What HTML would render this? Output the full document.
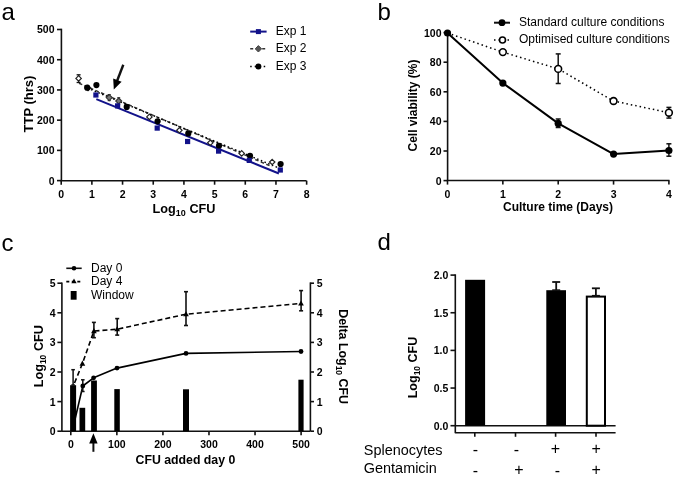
<!DOCTYPE html>
<html><head><meta charset="utf-8"><style>
html,body{margin:0;padding:0;background:#fff;}
svg{display:block;font-family:"Liberation Sans", sans-serif;will-change:transform;}
text{fill:#000;}
</style></head><body>
<svg width="675" height="477" viewBox="0 0 675 477">
<rect width="675" height="477" fill="#fff"/>
<text x="1.40" y="20.00" font-size="24" font-weight="normal" text-anchor="start" >a</text>
<line x1="61.40" y1="28.70" x2="61.40" y2="180.70" stroke="#111" stroke-width="1.6" stroke-linecap="butt"/>
<line x1="60.60" y1="180.70" x2="306.50" y2="180.70" stroke="#111" stroke-width="1.6" stroke-linecap="butt"/>
<line x1="57.00" y1="180.60" x2="61.40" y2="180.60" stroke="#111" stroke-width="1.6" stroke-linecap="butt"/>
<text x="54.50" y="184.50" font-size="10.5" font-weight="bold" text-anchor="end" >0</text>
<line x1="57.00" y1="150.38" x2="61.40" y2="150.38" stroke="#111" stroke-width="1.6" stroke-linecap="butt"/>
<text x="54.50" y="154.28" font-size="10.5" font-weight="bold" text-anchor="end" >100</text>
<line x1="57.00" y1="120.16" x2="61.40" y2="120.16" stroke="#111" stroke-width="1.6" stroke-linecap="butt"/>
<text x="54.50" y="124.06" font-size="10.5" font-weight="bold" text-anchor="end" >200</text>
<line x1="57.00" y1="89.94" x2="61.40" y2="89.94" stroke="#111" stroke-width="1.6" stroke-linecap="butt"/>
<text x="54.50" y="93.84" font-size="10.5" font-weight="bold" text-anchor="end" >300</text>
<line x1="57.00" y1="59.72" x2="61.40" y2="59.72" stroke="#111" stroke-width="1.6" stroke-linecap="butt"/>
<text x="54.50" y="63.62" font-size="10.5" font-weight="bold" text-anchor="end" >400</text>
<line x1="57.00" y1="29.50" x2="61.40" y2="29.50" stroke="#111" stroke-width="1.6" stroke-linecap="butt"/>
<text x="54.50" y="33.40" font-size="10.5" font-weight="bold" text-anchor="end" >500</text>
<line x1="61.20" y1="180.70" x2="61.20" y2="184.70" stroke="#111" stroke-width="1.6" stroke-linecap="butt"/>
<text x="61.20" y="198.20" font-size="10.5" font-weight="bold" text-anchor="middle" >0</text>
<line x1="91.88" y1="180.70" x2="91.88" y2="184.70" stroke="#111" stroke-width="1.6" stroke-linecap="butt"/>
<text x="91.88" y="198.20" font-size="10.5" font-weight="bold" text-anchor="middle" >1</text>
<line x1="122.56" y1="180.70" x2="122.56" y2="184.70" stroke="#111" stroke-width="1.6" stroke-linecap="butt"/>
<text x="122.56" y="198.20" font-size="10.5" font-weight="bold" text-anchor="middle" >2</text>
<line x1="153.24" y1="180.70" x2="153.24" y2="184.70" stroke="#111" stroke-width="1.6" stroke-linecap="butt"/>
<text x="153.24" y="198.20" font-size="10.5" font-weight="bold" text-anchor="middle" >3</text>
<line x1="183.92" y1="180.70" x2="183.92" y2="184.70" stroke="#111" stroke-width="1.6" stroke-linecap="butt"/>
<text x="183.92" y="198.20" font-size="10.5" font-weight="bold" text-anchor="middle" >4</text>
<line x1="214.60" y1="180.70" x2="214.60" y2="184.70" stroke="#111" stroke-width="1.6" stroke-linecap="butt"/>
<text x="214.60" y="198.20" font-size="10.5" font-weight="bold" text-anchor="middle" >5</text>
<line x1="245.28" y1="180.70" x2="245.28" y2="184.70" stroke="#111" stroke-width="1.6" stroke-linecap="butt"/>
<text x="245.28" y="198.20" font-size="10.5" font-weight="bold" text-anchor="middle" >6</text>
<line x1="275.96" y1="180.70" x2="275.96" y2="184.70" stroke="#111" stroke-width="1.6" stroke-linecap="butt"/>
<text x="275.96" y="198.20" font-size="10.5" font-weight="bold" text-anchor="middle" >7</text>
<line x1="306.64" y1="180.70" x2="306.64" y2="184.70" stroke="#111" stroke-width="1.6" stroke-linecap="butt"/>
<text x="306.64" y="198.20" font-size="10.5" font-weight="bold" text-anchor="middle" >8</text>
<text x="152.60" y="213.00" font-size="12.7" font-weight="bold" text-anchor="start" >Log<tspan font-size="9" dy="3">10</tspan><tspan dy="-3"> CFU</tspan></text>
<text x="0.00" y="0.00" font-size="13" font-weight="bold" text-anchor="middle" transform="translate(32.5,104) rotate(-90)">TTP (hrs)</text>
<line x1="96.30" y1="99.10" x2="278.90" y2="173.50" stroke="#12128a" stroke-width="2" stroke-linecap="butt"/>
<line x1="79.00" y1="83.29" x2="272.00" y2="166.68" stroke="#333" stroke-width="1.5" stroke-linecap="butt" stroke-dasharray="3.5,2.5"/>
<line x1="87.30" y1="88.06" x2="280.70" y2="168.77" stroke="#000" stroke-width="1.5" stroke-linecap="butt" stroke-dasharray="1.5,2.5"/>
<line x1="78.60" y1="74.80" x2="78.60" y2="82.50" stroke="#111" stroke-width="1.3" stroke-linecap="butt"/>
<line x1="76.60" y1="74.80" x2="80.60" y2="74.80" stroke="#111" stroke-width="1.3" stroke-linecap="butt"/>
<line x1="76.60" y1="82.50" x2="80.60" y2="82.50" stroke="#111" stroke-width="1.3" stroke-linecap="butt"/>
<polygon points="78.6,75.7 81.3,78.4 78.6,81.10000000000001 75.89999999999999,78.4" fill="#fff" stroke="#222" stroke-width="1.2"/>
<polygon points="88,85.3 90.7,88 88,90.7 85.3,88" fill="#fff" stroke="#222" stroke-width="1.2"/>
<polygon points="149.4,114.2 152.1,116.9 149.4,119.60000000000001 146.70000000000002,116.9" fill="#fff" stroke="#222" stroke-width="1.2"/>
<polygon points="179.4,127.60000000000001 182.1,130.3 179.4,133.0 176.70000000000002,130.3" fill="#fff" stroke="#222" stroke-width="1.2"/>
<polygon points="210.3,140.10000000000002 213.0,142.8 210.3,145.5 207.60000000000002,142.8" fill="#fff" stroke="#222" stroke-width="1.2"/>
<polygon points="241.7,150.70000000000002 244.39999999999998,153.4 241.7,156.1 239.0,153.4" fill="#fff" stroke="#222" stroke-width="1.2"/>
<polygon points="272.2,159.3 274.9,162 272.2,164.7 269.5,162" fill="#fff" stroke="#222" stroke-width="1.2"/>
<line x1="109.20" y1="94.60" x2="109.20" y2="100.60" stroke="#111" stroke-width="1.1" stroke-linecap="butt"/>
<line x1="107.70" y1="94.60" x2="110.70" y2="94.60" stroke="#111" stroke-width="1.1" stroke-linecap="butt"/>
<line x1="107.70" y1="100.60" x2="110.70" y2="100.60" stroke="#111" stroke-width="1.1" stroke-linecap="butt"/>
<line x1="118.70" y1="97.80" x2="118.70" y2="104.20" stroke="#111" stroke-width="1.1" stroke-linecap="butt"/>
<line x1="117.20" y1="97.80" x2="120.20" y2="97.80" stroke="#111" stroke-width="1.1" stroke-linecap="butt"/>
<line x1="117.20" y1="104.20" x2="120.20" y2="104.20" stroke="#111" stroke-width="1.1" stroke-linecap="butt"/>
<polygon points="109.2,94.6 112.2,97.6 109.2,100.6 106.2,97.6" fill="#777" stroke="#333" stroke-width="1.1"/>
<polygon points="118.7,98 121.7,101 118.7,104 115.7,101" fill="#777" stroke="#333" stroke-width="1.1"/>
<circle cx="87.20" cy="87.70" r="3.1" fill="#000"/>
<circle cx="96.40" cy="85.10" r="3.1" fill="#000"/>
<circle cx="126.70" cy="106.90" r="3.1" fill="#000"/>
<circle cx="157.60" cy="121.30" r="3.1" fill="#000"/>
<circle cx="188.30" cy="133.40" r="3.1" fill="#000"/>
<circle cx="219.00" cy="145.80" r="3.1" fill="#000"/>
<circle cx="250.00" cy="155.80" r="3.1" fill="#000"/>
<circle cx="280.60" cy="164.00" r="3.1" fill="#000"/>
<rect x="93.30" y="92.40" width="5.20" height="5.20" fill="#12128a"/>
<rect x="115.00" y="103.30" width="5.20" height="5.20" fill="#12128a"/>
<rect x="154.60" y="125.50" width="5.20" height="5.20" fill="#12128a"/>
<rect x="185.00" y="138.90" width="5.20" height="5.20" fill="#12128a"/>
<rect x="216.00" y="148.50" width="5.20" height="5.20" fill="#12128a"/>
<rect x="246.70" y="157.80" width="5.20" height="5.20" fill="#12128a"/>
<rect x="277.70" y="167.40" width="5.20" height="5.20" fill="#12128a"/>
<line x1="123.30" y1="64.80" x2="117.04" y2="81.00" stroke="#111" stroke-width="2.4" stroke-linecap="butt"/>
<polygon points="113.80,89.40 113.20,78.45 121.60,81.69" fill="#000"/>
<line x1="250.20" y1="31.60" x2="266.60" y2="31.60" stroke="#12128a" stroke-width="2" stroke-linecap="butt"/>
<rect x="255.90" y="29.10" width="5.00" height="5.00" fill="#12128a"/>
<text x="275.70" y="34.80" font-size="12" font-weight="normal" text-anchor="start" >Exp 1</text>
<line x1="250.20" y1="48.80" x2="266.60" y2="48.80" stroke="#333" stroke-width="1.5" stroke-linecap="butt" stroke-dasharray="3,3"/>
<polygon points="258.4,45.599999999999994 261.59999999999997,48.8 258.4,52.0 255.2,48.8" fill="#555" stroke="#444" stroke-width="1"/>
<text x="275.70" y="52.20" font-size="12" font-weight="normal" text-anchor="start" >Exp 2</text>
<line x1="250.20" y1="66.60" x2="266.60" y2="66.60" stroke="#000" stroke-width="1.5" stroke-linecap="butt" stroke-dasharray="1.5,3"/>
<circle cx="258.40" cy="66.60" r="3" fill="#000"/>
<text x="275.70" y="70.00" font-size="12" font-weight="normal" text-anchor="start" >Exp 3</text>
<text x="377.50" y="19.80" font-size="24" font-weight="normal" text-anchor="start" >b</text>
<line x1="447.60" y1="31.80" x2="447.60" y2="180.50" stroke="#111" stroke-width="1.6" stroke-linecap="butt"/>
<line x1="446.80" y1="180.50" x2="669.50" y2="180.50" stroke="#111" stroke-width="1.6" stroke-linecap="butt"/>
<line x1="443.50" y1="180.60" x2="447.50" y2="180.60" stroke="#111" stroke-width="1.6" stroke-linecap="butt"/>
<text x="441.50" y="184.50" font-size="10.5" font-weight="bold" text-anchor="end" >0</text>
<line x1="443.50" y1="151.00" x2="447.50" y2="151.00" stroke="#111" stroke-width="1.6" stroke-linecap="butt"/>
<text x="441.50" y="154.90" font-size="10.5" font-weight="bold" text-anchor="end" >20</text>
<line x1="443.50" y1="121.40" x2="447.50" y2="121.40" stroke="#111" stroke-width="1.6" stroke-linecap="butt"/>
<text x="441.50" y="125.30" font-size="10.5" font-weight="bold" text-anchor="end" >40</text>
<line x1="443.50" y1="91.80" x2="447.50" y2="91.80" stroke="#111" stroke-width="1.6" stroke-linecap="butt"/>
<text x="441.50" y="95.70" font-size="10.5" font-weight="bold" text-anchor="end" >60</text>
<line x1="443.50" y1="62.20" x2="447.50" y2="62.20" stroke="#111" stroke-width="1.6" stroke-linecap="butt"/>
<text x="441.50" y="66.10" font-size="10.5" font-weight="bold" text-anchor="end" >80</text>
<line x1="443.50" y1="32.60" x2="447.50" y2="32.60" stroke="#111" stroke-width="1.6" stroke-linecap="butt"/>
<text x="441.50" y="36.50" font-size="10.5" font-weight="bold" text-anchor="end" >100</text>
<line x1="447.50" y1="180.60" x2="447.50" y2="184.60" stroke="#111" stroke-width="1.6" stroke-linecap="butt"/>
<text x="447.50" y="198.00" font-size="10.5" font-weight="bold" text-anchor="middle" >0</text>
<line x1="502.85" y1="180.60" x2="502.85" y2="184.60" stroke="#111" stroke-width="1.6" stroke-linecap="butt"/>
<text x="502.85" y="198.00" font-size="10.5" font-weight="bold" text-anchor="middle" >1</text>
<line x1="558.20" y1="180.60" x2="558.20" y2="184.60" stroke="#111" stroke-width="1.6" stroke-linecap="butt"/>
<text x="558.20" y="198.00" font-size="10.5" font-weight="bold" text-anchor="middle" >2</text>
<line x1="613.55" y1="180.60" x2="613.55" y2="184.60" stroke="#111" stroke-width="1.6" stroke-linecap="butt"/>
<text x="613.55" y="198.00" font-size="10.5" font-weight="bold" text-anchor="middle" >3</text>
<line x1="668.90" y1="180.60" x2="668.90" y2="184.60" stroke="#111" stroke-width="1.6" stroke-linecap="butt"/>
<text x="668.90" y="198.00" font-size="10.5" font-weight="bold" text-anchor="middle" >4</text>
<text x="558.00" y="211.30" font-size="12" font-weight="bold" text-anchor="middle" >Culture time (Days)</text>
<text x="0.00" y="0.00" font-size="12" font-weight="bold" text-anchor="middle" transform="translate(416.6,105.5) rotate(-90)">Cell viability (%)</text>
<polyline points="447.50,33.00 502.85,52.10 558.20,68.90 613.55,101.00 668.90,112.70" fill="none" stroke="#000" stroke-width="1.5" stroke-linejoin="round" stroke-dasharray="1.5,3"/>
<polyline points="447.50,33.00 502.85,83.10 558.20,123.40 613.55,154.10 668.90,150.50" fill="none" stroke="#000" stroke-width="2" stroke-linejoin="round"/>
<line x1="558.20" y1="53.90" x2="558.20" y2="83.50" stroke="#111" stroke-width="1.5" stroke-linecap="butt"/>
<line x1="555.70" y1="53.90" x2="560.70" y2="53.90" stroke="#111" stroke-width="1.5" stroke-linecap="butt"/>
<line x1="555.70" y1="83.50" x2="560.70" y2="83.50" stroke="#111" stroke-width="1.5" stroke-linecap="butt"/>
<line x1="668.90" y1="107.40" x2="668.90" y2="118.10" stroke="#111" stroke-width="1.5" stroke-linecap="butt"/>
<line x1="666.40" y1="107.40" x2="671.40" y2="107.40" stroke="#111" stroke-width="1.5" stroke-linecap="butt"/>
<line x1="666.40" y1="118.10" x2="671.40" y2="118.10" stroke="#111" stroke-width="1.5" stroke-linecap="butt"/>
<line x1="558.20" y1="119.00" x2="558.20" y2="127.50" stroke="#111" stroke-width="1.5" stroke-linecap="butt"/>
<line x1="555.70" y1="119.00" x2="560.70" y2="119.00" stroke="#111" stroke-width="1.5" stroke-linecap="butt"/>
<line x1="555.70" y1="127.50" x2="560.70" y2="127.50" stroke="#111" stroke-width="1.5" stroke-linecap="butt"/>
<line x1="668.90" y1="143.80" x2="668.90" y2="156.20" stroke="#111" stroke-width="1.5" stroke-linecap="butt"/>
<line x1="666.40" y1="143.80" x2="671.40" y2="143.80" stroke="#111" stroke-width="1.5" stroke-linecap="butt"/>
<line x1="666.40" y1="156.20" x2="671.40" y2="156.20" stroke="#111" stroke-width="1.5" stroke-linecap="butt"/>
<circle cx="502.85" cy="52.10" r="3.4" fill="#fff" stroke="#000" stroke-width="1.6"/>
<circle cx="558.20" cy="68.90" r="3.4" fill="#fff" stroke="#000" stroke-width="1.6"/>
<circle cx="613.55" cy="101.00" r="3.4" fill="#fff" stroke="#000" stroke-width="1.6"/>
<circle cx="668.90" cy="112.70" r="3.4" fill="#fff" stroke="#000" stroke-width="1.6"/>
<circle cx="447.50" cy="33.00" r="3.6" fill="#000"/>
<circle cx="502.85" cy="83.10" r="3.6" fill="#000"/>
<circle cx="558.20" cy="123.40" r="3.6" fill="#000"/>
<circle cx="613.55" cy="154.10" r="3.6" fill="#000"/>
<circle cx="668.90" cy="150.50" r="3.6" fill="#000"/>
<line x1="494.00" y1="22.70" x2="510.00" y2="22.70" stroke="#111" stroke-width="2" stroke-linecap="butt"/>
<circle cx="502.00" cy="22.70" r="3.4" fill="#000"/>
<text x="519.00" y="25.80" font-size="12" font-weight="normal" text-anchor="start" >Standard culture conditions</text>
<line x1="494.00" y1="40.00" x2="510.00" y2="40.00" stroke="#000" stroke-width="1.5" stroke-linecap="butt" stroke-dasharray="1.5,3"/>
<circle cx="502.50" cy="40.00" r="3" fill="#fff" stroke="#000" stroke-width="1.6"/>
<text x="519.00" y="43.00" font-size="12" font-weight="normal" text-anchor="start" >Optimised culture conditions</text>
<text x="1.50" y="250.60" font-size="24" font-weight="normal" text-anchor="start" >c</text>
<line x1="61.90" y1="282.40" x2="61.90" y2="431.20" stroke="#111" stroke-width="1.6" stroke-linecap="butt"/>
<line x1="310.40" y1="282.40" x2="310.40" y2="431.20" stroke="#111" stroke-width="1.6" stroke-linecap="butt"/>
<line x1="61.90" y1="431.20" x2="310.40" y2="431.20" stroke="#111" stroke-width="1.6" stroke-linecap="butt"/>
<line x1="57.40" y1="431.20" x2="61.90" y2="431.20" stroke="#111" stroke-width="1.6" stroke-linecap="butt"/>
<text x="55.60" y="435.10" font-size="10.5" font-weight="bold" text-anchor="end" >0</text>
<line x1="310.40" y1="431.20" x2="314.00" y2="431.20" stroke="#111" stroke-width="1.6" stroke-linecap="butt"/>
<text x="316.80" y="435.10" font-size="10.5" font-weight="bold" text-anchor="start" >0</text>
<line x1="57.40" y1="401.60" x2="61.90" y2="401.60" stroke="#111" stroke-width="1.6" stroke-linecap="butt"/>
<text x="55.60" y="405.50" font-size="10.5" font-weight="bold" text-anchor="end" >1</text>
<line x1="310.40" y1="401.60" x2="314.00" y2="401.60" stroke="#111" stroke-width="1.6" stroke-linecap="butt"/>
<text x="316.80" y="405.50" font-size="10.5" font-weight="bold" text-anchor="start" >1</text>
<line x1="57.40" y1="372.00" x2="61.90" y2="372.00" stroke="#111" stroke-width="1.6" stroke-linecap="butt"/>
<text x="55.60" y="375.90" font-size="10.5" font-weight="bold" text-anchor="end" >2</text>
<line x1="310.40" y1="372.00" x2="314.00" y2="372.00" stroke="#111" stroke-width="1.6" stroke-linecap="butt"/>
<text x="316.80" y="375.90" font-size="10.5" font-weight="bold" text-anchor="start" >2</text>
<line x1="57.40" y1="342.40" x2="61.90" y2="342.40" stroke="#111" stroke-width="1.6" stroke-linecap="butt"/>
<text x="55.60" y="346.30" font-size="10.5" font-weight="bold" text-anchor="end" >3</text>
<line x1="310.40" y1="342.40" x2="314.00" y2="342.40" stroke="#111" stroke-width="1.6" stroke-linecap="butt"/>
<text x="316.80" y="346.30" font-size="10.5" font-weight="bold" text-anchor="start" >3</text>
<line x1="57.40" y1="312.80" x2="61.90" y2="312.80" stroke="#111" stroke-width="1.6" stroke-linecap="butt"/>
<text x="55.60" y="316.70" font-size="10.5" font-weight="bold" text-anchor="end" >4</text>
<line x1="310.40" y1="312.80" x2="314.00" y2="312.80" stroke="#111" stroke-width="1.6" stroke-linecap="butt"/>
<text x="316.80" y="316.70" font-size="10.5" font-weight="bold" text-anchor="start" >4</text>
<line x1="57.40" y1="283.20" x2="61.90" y2="283.20" stroke="#111" stroke-width="1.6" stroke-linecap="butt"/>
<text x="55.60" y="287.10" font-size="10.5" font-weight="bold" text-anchor="end" >5</text>
<line x1="310.40" y1="283.20" x2="314.00" y2="283.20" stroke="#111" stroke-width="1.6" stroke-linecap="butt"/>
<text x="316.80" y="287.10" font-size="10.5" font-weight="bold" text-anchor="start" >5</text>
<line x1="70.80" y1="431.20" x2="70.80" y2="435.30" stroke="#111" stroke-width="1.6" stroke-linecap="butt"/>
<text x="70.80" y="448.00" font-size="10.5" font-weight="bold" text-anchor="middle" >0</text>
<line x1="116.86" y1="431.20" x2="116.86" y2="435.30" stroke="#111" stroke-width="1.6" stroke-linecap="butt"/>
<text x="116.86" y="448.00" font-size="10.5" font-weight="bold" text-anchor="middle" >100</text>
<line x1="162.92" y1="431.20" x2="162.92" y2="435.30" stroke="#111" stroke-width="1.6" stroke-linecap="butt"/>
<text x="162.92" y="448.00" font-size="10.5" font-weight="bold" text-anchor="middle" >200</text>
<line x1="208.98" y1="431.20" x2="208.98" y2="435.30" stroke="#111" stroke-width="1.6" stroke-linecap="butt"/>
<text x="208.98" y="448.00" font-size="10.5" font-weight="bold" text-anchor="middle" >300</text>
<line x1="255.04" y1="431.20" x2="255.04" y2="435.30" stroke="#111" stroke-width="1.6" stroke-linecap="butt"/>
<text x="255.04" y="448.00" font-size="10.5" font-weight="bold" text-anchor="middle" >400</text>
<line x1="301.10" y1="431.20" x2="301.10" y2="435.30" stroke="#111" stroke-width="1.6" stroke-linecap="butt"/>
<text x="301.10" y="448.00" font-size="10.5" font-weight="bold" text-anchor="middle" >500</text>
<text x="185.40" y="464.20" font-size="12.3" font-weight="bold" text-anchor="middle" >CFU added day 0</text>
<text x="0.00" y="0.00" font-size="12.7" font-weight="bold" text-anchor="middle" transform="translate(43.3,356.2) rotate(-90)">Log<tspan font-size="8.5" dy="3">10</tspan><tspan dy="-3"> CFU</tspan></text>
<text x="0.00" y="0.00" font-size="12.4" font-weight="bold" text-anchor="middle" transform="translate(338.6,356.6) rotate(90)">Delta Log<tspan font-size="8.5" dy="3">10</tspan><tspan dy="-3"> CFU</tspan></text>
<rect x="70.10" y="385.20" width="6.00" height="46.00" fill="#000"/>
<rect x="79.50" y="407.80" width="5.70" height="23.40" fill="#000"/>
<rect x="91.10" y="380.50" width="5.80" height="50.70" fill="#000"/>
<rect x="114.30" y="389.10" width="5.50" height="42.10" fill="#000"/>
<rect x="183.00" y="389.30" width="6.00" height="41.90" fill="#000"/>
<rect x="298.40" y="379.70" width="5.20" height="51.50" fill="#000"/>
<line x1="73.10" y1="369.70" x2="73.10" y2="385.00" stroke="#111" stroke-width="1.5" stroke-linecap="butt"/>
<line x1="71.30" y1="369.70" x2="74.90" y2="369.70" stroke="#111" stroke-width="1.5" stroke-linecap="butt"/>
<line x1="71.30" y1="385.00" x2="74.90" y2="385.00" stroke="#111" stroke-width="1.5" stroke-linecap="butt"/>
<polyline points="74.50,383.00 82.40,363.60 93.90,331.10 117.20,329.20 186.00,314.20 301.00,303.40" fill="none" stroke="#000" stroke-width="1.6" stroke-linejoin="round" stroke-dasharray="5,3"/>
<line x1="93.90" y1="322.40" x2="93.90" y2="337.70" stroke="#111" stroke-width="1.6" stroke-linecap="butt"/>
<line x1="91.90" y1="322.40" x2="95.90" y2="322.40" stroke="#111" stroke-width="1.6" stroke-linecap="butt"/>
<line x1="91.90" y1="337.70" x2="95.90" y2="337.70" stroke="#111" stroke-width="1.6" stroke-linecap="butt"/>
<line x1="117.20" y1="318.60" x2="117.20" y2="335.10" stroke="#111" stroke-width="1.6" stroke-linecap="butt"/>
<line x1="115.20" y1="318.60" x2="119.20" y2="318.60" stroke="#111" stroke-width="1.6" stroke-linecap="butt"/>
<line x1="115.20" y1="335.10" x2="119.20" y2="335.10" stroke="#111" stroke-width="1.6" stroke-linecap="butt"/>
<line x1="186.00" y1="291.70" x2="186.00" y2="325.50" stroke="#111" stroke-width="1.6" stroke-linecap="butt"/>
<line x1="184.00" y1="291.70" x2="188.00" y2="291.70" stroke="#111" stroke-width="1.6" stroke-linecap="butt"/>
<line x1="184.00" y1="325.50" x2="188.00" y2="325.50" stroke="#111" stroke-width="1.6" stroke-linecap="butt"/>
<line x1="301.10" y1="290.60" x2="301.10" y2="310.80" stroke="#111" stroke-width="1.6" stroke-linecap="butt"/>
<line x1="299.10" y1="290.60" x2="303.10" y2="290.60" stroke="#111" stroke-width="1.6" stroke-linecap="butt"/>
<line x1="299.10" y1="310.80" x2="303.10" y2="310.80" stroke="#111" stroke-width="1.6" stroke-linecap="butt"/>
<polygon points="82.4,360.6 85.25,365.70000000000005 79.55000000000001,365.70000000000005" fill="#000"/>
<polygon points="93.9,328.1 96.75,333.20000000000005 91.05000000000001,333.20000000000005" fill="#000"/>
<polygon points="117.2,326.2 120.05,331.3 114.35000000000001,331.3" fill="#000"/>
<polygon points="186,311.2 188.85,316.3 183.15,316.3" fill="#000"/>
<polygon points="301,300.4 303.85,305.5 298.15,305.5" fill="#000"/>
<polyline points="73.00,428.00 82.80,386.00 93.60,377.80 117.00,368.10 186.00,353.40 301.00,351.50" fill="none" stroke="#000" stroke-width="1.6" stroke-linejoin="round"/>
<line x1="82.80" y1="379.80" x2="82.80" y2="391.50" stroke="#111" stroke-width="1.5" stroke-linecap="butt"/>
<line x1="81.00" y1="379.80" x2="84.60" y2="379.80" stroke="#111" stroke-width="1.5" stroke-linecap="butt"/>
<line x1="81.00" y1="391.50" x2="84.60" y2="391.50" stroke="#111" stroke-width="1.5" stroke-linecap="butt"/>
<circle cx="82.80" cy="386.00" r="2.4" fill="#000"/>
<circle cx="93.60" cy="377.80" r="2.4" fill="#000"/>
<circle cx="117.00" cy="368.10" r="2.4" fill="#000"/>
<circle cx="186.00" cy="353.40" r="2.4" fill="#000"/>
<circle cx="301.00" cy="351.50" r="2.4" fill="#000"/>
<line x1="93.40" y1="451.80" x2="93.40" y2="442.50" stroke="#111" stroke-width="2.0" stroke-linecap="butt"/>
<polygon points="93.40,433.30 97.60,443.50 89.20,443.50" fill="#000"/>
<line x1="66.30" y1="268.30" x2="81.70" y2="268.30" stroke="#111" stroke-width="1.6" stroke-linecap="butt"/>
<circle cx="74.00" cy="268.30" r="2.3" fill="#000"/>
<text x="91.00" y="271.50" font-size="12" font-weight="normal" text-anchor="start" >Day 0</text>
<line x1="66.30" y1="281.60" x2="81.70" y2="281.60" stroke="#000" stroke-width="1.6" stroke-linecap="butt" stroke-dasharray="3,2.5"/>
<polygon points="74,278.59999999999997 76.66,283.35999999999996 71.34,283.35999999999996" fill="#000"/>
<text x="91.00" y="284.60" font-size="12" font-weight="normal" text-anchor="start" >Day 4</text>
<rect x="70.70" y="291.00" width="5.90" height="8.70" fill="#000"/>
<text x="91.00" y="298.60" font-size="12" font-weight="normal" text-anchor="start" >Window</text>
<text x="377.50" y="250.40" font-size="24" font-weight="normal" text-anchor="start" >d</text>
<line x1="455.30" y1="274.30" x2="455.30" y2="433.20" stroke="#111" stroke-width="1.6" stroke-linecap="butt"/>
<line x1="455.30" y1="432.80" x2="615.60" y2="432.80" stroke="#111" stroke-width="1.6" stroke-linecap="butt"/>
<line x1="455.30" y1="425.70" x2="615.60" y2="425.70" stroke="#111" stroke-width="1.6" stroke-linecap="butt"/>
<line x1="450.50" y1="425.70" x2="455.30" y2="425.70" stroke="#111" stroke-width="1.6" stroke-linecap="butt"/>
<text x="448.30" y="429.50" font-size="10.5" font-weight="bold" text-anchor="end" >0.0</text>
<line x1="450.50" y1="388.05" x2="455.30" y2="388.05" stroke="#111" stroke-width="1.6" stroke-linecap="butt"/>
<text x="448.30" y="391.85" font-size="10.5" font-weight="bold" text-anchor="end" >0.5</text>
<line x1="450.50" y1="350.40" x2="455.30" y2="350.40" stroke="#111" stroke-width="1.6" stroke-linecap="butt"/>
<text x="448.30" y="354.20" font-size="10.5" font-weight="bold" text-anchor="end" >1.0</text>
<line x1="450.50" y1="312.75" x2="455.30" y2="312.75" stroke="#111" stroke-width="1.6" stroke-linecap="butt"/>
<text x="448.30" y="316.55" font-size="10.5" font-weight="bold" text-anchor="end" >1.5</text>
<line x1="450.50" y1="275.10" x2="455.30" y2="275.10" stroke="#111" stroke-width="1.6" stroke-linecap="butt"/>
<text x="448.30" y="278.90" font-size="10.5" font-weight="bold" text-anchor="end" >2.0</text>
<line x1="474.80" y1="432.80" x2="474.80" y2="436.80" stroke="#111" stroke-width="1.6" stroke-linecap="butt"/>
<line x1="515.50" y1="432.80" x2="515.50" y2="436.80" stroke="#111" stroke-width="1.6" stroke-linecap="butt"/>
<line x1="555.60" y1="432.80" x2="555.60" y2="436.80" stroke="#111" stroke-width="1.6" stroke-linecap="butt"/>
<line x1="596.00" y1="432.80" x2="596.00" y2="436.80" stroke="#111" stroke-width="1.6" stroke-linecap="butt"/>
<text x="0.00" y="0.00" font-size="12.5" font-weight="bold" text-anchor="middle" transform="translate(417,367.5) rotate(-90)">Log<tspan font-size="8.5" dy="3">10</tspan><tspan dy="-3"> CFU</tspan></text>
<rect x="465.10" y="279.80" width="20.00" height="145.90" fill="#000"/>
<rect x="546.30" y="290.20" width="19.70" height="135.50" fill="#000"/>
<rect x="586.8" y="296.6" width="18.2" height="129.1" fill="#fff" stroke="#000" stroke-width="2"/>
<line x1="556.20" y1="282.00" x2="556.20" y2="290.20" stroke="#111" stroke-width="1.8" stroke-linecap="butt"/>
<line x1="552.20" y1="282.00" x2="560.20" y2="282.00" stroke="#111" stroke-width="1.8" stroke-linecap="butt"/>
<line x1="552.20" y1="290.20" x2="560.20" y2="290.20" stroke="#111" stroke-width="1.8" stroke-linecap="butt"/>
<line x1="595.90" y1="288.30" x2="595.90" y2="295.80" stroke="#111" stroke-width="1.8" stroke-linecap="butt"/>
<line x1="591.90" y1="288.30" x2="599.90" y2="288.30" stroke="#111" stroke-width="1.8" stroke-linecap="butt"/>
<line x1="591.90" y1="295.80" x2="599.90" y2="295.80" stroke="#111" stroke-width="1.8" stroke-linecap="butt"/>
<text x="363.80" y="455.10" font-size="14.45" font-weight="normal" text-anchor="start" >Splenocytes</text>
<text x="363.80" y="472.60" font-size="14.45" font-weight="normal" text-anchor="start" >Gentamicin</text>
<text x="475.50" y="455.00" font-size="16" font-weight="normal" text-anchor="middle" >-</text>
<text x="516.50" y="455.00" font-size="16" font-weight="normal" text-anchor="middle" >-</text>
<text x="555.50" y="454.20" font-size="16" font-weight="normal" text-anchor="middle" >+</text>
<text x="596.20" y="454.20" font-size="16" font-weight="normal" text-anchor="middle" >+</text>
<text x="475.50" y="476.00" font-size="16" font-weight="normal" text-anchor="middle" >-</text>
<text x="518.90" y="475.20" font-size="16" font-weight="normal" text-anchor="middle" >+</text>
<text x="557.40" y="476.00" font-size="16" font-weight="normal" text-anchor="middle" >-</text>
<text x="596.20" y="475.20" font-size="16" font-weight="normal" text-anchor="middle" >+</text>
</svg>
</body></html>
